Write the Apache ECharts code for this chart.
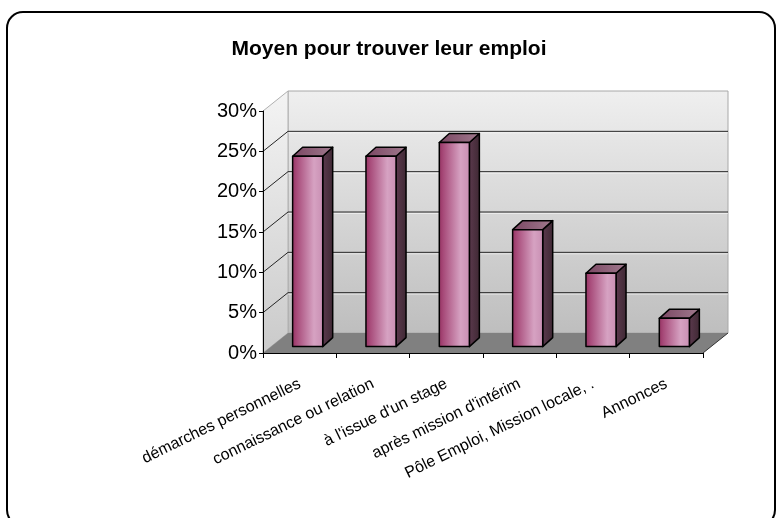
<!DOCTYPE html>
<html>
<head>
<meta charset="utf-8">
<script src="https://cdn.jsdelivr.net/npm/echarts@6/dist/echarts.min.js"></script>
<style>
    html, body {margin: 0; padding: 0; background: #fff;}
    #chart {width: 778px; height: 518px;}
</style>
</head>
<body>
<div id="chart"></div>
<script>
const categories = [
    'démarches personnelles',
    'connaissance ou relation',
    "à l'issue d'un stage",
    "après mission d'intérim",
    'Pôle Emploi, Mission locale, .',
    'Annonces',
];
const values = [0.236, 0.236, 0.253, 0.145, 0.091, 0.035];
const yTicks = [0, 0.05, 0.1, 0.15, 0.2, 0.25, 0.3];

// fake 3D look (Excel style)
const DEPTH = [25, -20];        // full depth of the box
const BAR_FRONT = 0.32;         // bar front sits at this fraction of depth
const BAR_BACK = 0.72;
const BAR_RATIO = 0.41;
const FONT = '"Liberation Sans", Arial, sans-serif';

const G = echarts.graphic;

function renderFrame(params, api) {
    const bw = api.size([1, 0])[0];
    const n = categories.length;
    const x0 = api.coord([0, 0])[0] - bw / 2;
    const x1 = api.coord([n - 1, 0])[0] + bw / 2;
    const yb = api.coord([0, yTicks[0]])[1];
    const yt = api.coord([0, yTicks[yTicks.length - 1]])[1];
    const [dx, dy] = DEPTH;
    const wallFill = new G.LinearGradient(0, 0, 0, 1, [
        {offset: 0, color: '#efefef'},
        {offset: 1, color: '#bebebe'},
    ]);
    const children = [];
    // back wall
    children.push({
        type: 'rect',
        shape: {x: x0 + dx, y: yt + dy, width: x1 - x0, height: yb - yt},
        style: {fill: wallFill, stroke: '#a8a8a8', lineWidth: 1},
    });
    // left side wall
    children.push({
        type: 'polygon',
        shape: {points: [[x0, yt], [x0 + dx, yt + dy], [x0 + dx, yb + dy], [x0, yb]]},
        style: {fill: new G.LinearGradient(0, 0, 0, 1, [
            {offset: 0, color: '#f4f4f4'},
            {offset: 1, color: '#cacaca'},
        ]), stroke: '#b0b0b0', lineWidth: 1},
    });
    // floor
    children.push({
        type: 'polygon',
        shape: {points: [[x0, yb], [x1, yb], [x1 + dx, yb + dy], [x0 + dx, yb + dy]]},
        style: {fill: '#808080', stroke: null},
    });
    children.push({
        type: 'line',
        shape: {x1: x1, y1: yb, x2: x1 + dx, y2: yb + dy},
        style: {stroke: '#333', lineWidth: 1},
    });
    // grid lines on the walls
    for (const t of yTicks.slice(1, -1)) {
        const y = api.coord([0, t])[1];
        children.push({
            type: 'polyline',
            shape: {points: [[x0, y], [x0 + dx, y + dy], [x1 + dx, y + dy]]},
            style: {stroke: '#262626', lineWidth: 1, fill: null},
        });
        children.push({
            type: 'line',
            shape: {x1: x0 + dx, y1: y + dy + 1.5, x2: x1 + dx, y2: y + dy + 1.5},
            style: {stroke: 'rgba(255,255,255,0.5)', lineWidth: 1},
        });
    }
    return {type: 'group', children};
}

function renderBar(params, api) {
    const i = api.value(0);
    const top = api.coord([i, api.value(1)]);
    const base = api.coord([i, 0]);
    const w = api.size([1, 0])[0] * BAR_RATIO;
    const fx = DEPTH[0] * BAR_FRONT, fy = DEPTH[1] * BAR_FRONT;
    const dx = DEPTH[0] * (BAR_BACK - BAR_FRONT), dy = DEPTH[1] * (BAR_BACK - BAR_FRONT) - 1;
    const x0 = top[0] - w / 2 + fx, x1 = x0 + w;
    const yt = top[1] + fy, yb = base[1] + fy;
    const edge = {stroke: '#000', lineWidth: 1.5, lineJoin: 'round'};
    return {
        type: 'group',
        children: [{
            type: 'polygon',
            shape: {points: [[x1, yb], [x1, yt], [x1 + dx, yt + dy], [x1 + dx, yb + dy]]},
            style: {...edge, fill: new G.LinearGradient(0, 0, 1, 0, [
                {offset: 0, color: '#5c3a4e'},
                {offset: 1, color: '#3e2833'},
            ])},
        }, {
            type: 'polygon',
            shape: {points: [[x0, yt], [x1, yt], [x1 + dx, yt + dy], [x0 + dx, yt + dy]]},
            style: {...edge, fill: new G.LinearGradient(0, 0, 1, 0, [
                {offset: 0, color: '#7a4662'},
                {offset: 1, color: '#a07a8e'},
            ])},
        }, {
            type: 'rect',
            shape: {x: x0, y: yt, width: w, height: yb - yt},
            style: {...edge, fill: new G.LinearGradient(0, 0, 1, 0, [
                {offset: 0, color: '#943060'},
                {offset: 0.15, color: '#a74a79'},
                {offset: 0.7, color: '#d6a2c2'},
                {offset: 1, color: '#c88eb2'},
            ])},
        }],
    };
}

const chart = echarts.init(document.getElementById('chart'), null, {renderer: 'canvas'});
chart.setOption({
    animation: false,
    backgroundColor: '#fff',
    textStyle: {fontFamily: FONT},
    title: {
        text: 'Moyen pour trouver leur emploi',
        left: 'center',
        top: 34,
        textStyle: {fontFamily: FONT, fontSize: 21, fontWeight: 'bold', color: '#000'},
    },
    graphic: [{
        type: 'rect',
        shape: {x: 7, y: 12, width: 768, height: 514, r: 16},
        style: {fill: null, stroke: '#000', lineWidth: 2},
        z: 10,
    }],
    grid: {left: 263, right: 75, top: 111, bottom: 165},
    xAxis: {
        type: 'category',
        data: categories,
        z: 5,
        axisLine: {lineStyle: {color: '#000', width: 1}},
        axisTick: {show: true, interval: 0, length: 5, lineStyle: {color: '#000'}},
        axisLabel: {
            interval: 0,
            rotate: 26,
            margin: 30,
            fontFamily: FONT,
            fontSize: 16,
            color: '#000',
        },
    },
    yAxis: {
        type: 'value',
        min: 0,
        max: 0.3,
        interval: 0.05,
        z: 5,
        axisLine: {show: true, lineStyle: {color: '#000', width: 1}},
        axisTick: {show: true, length: 4, lineStyle: {color: '#000'}},
        splitLine: {show: false},
        axisLabel: {
            margin: 6,
            fontFamily: FONT,
            fontSize: 20,
            color: '#000',
            formatter: v => Math.round(v * 100) + '%',
        },
    },
    series: [{
        type: 'custom',
        name: 'frame',
        z: 1,
        silent: true,
        renderItem: renderFrame,
        data: [[0, 0]],
    }, {
        type: 'custom',
        name: 'bars',
        z: 2,
        renderItem: renderBar,
        encode: {x: 0, y: 1},
        data: values.map((v, i) => [i, v]),
    }],
});
</script>
</body>
</html>
